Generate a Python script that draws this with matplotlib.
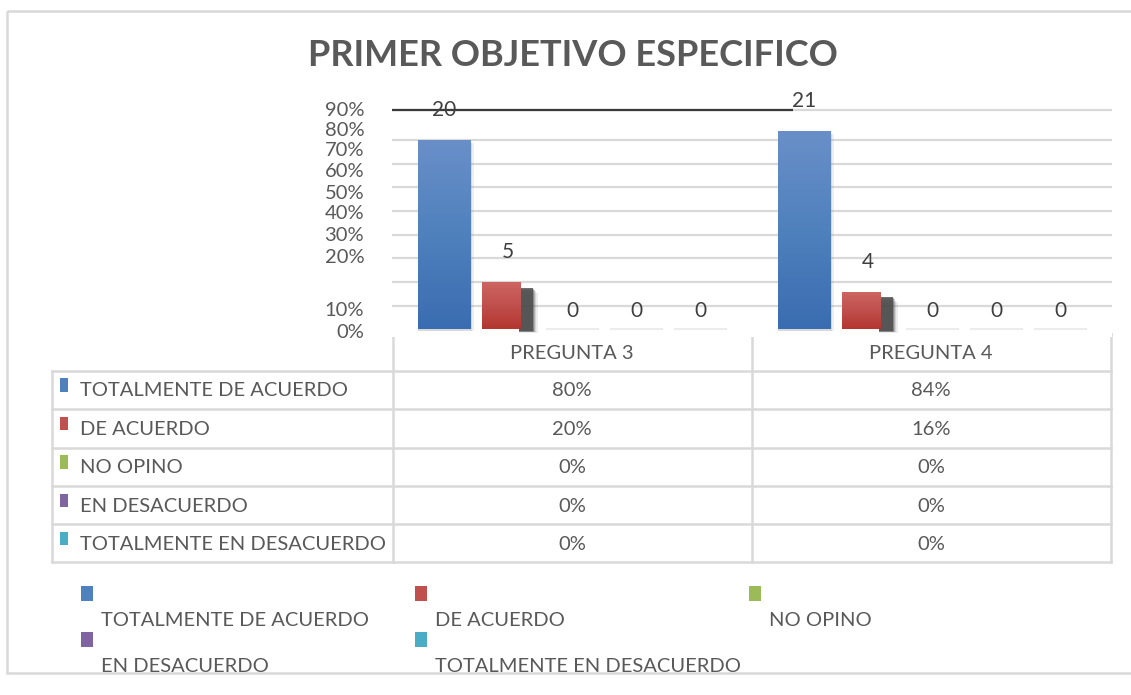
import matplotlib
matplotlib.use("Agg")
import matplotlib.pyplot as plt
from matplotlib.patches import Rectangle
from matplotlib.colors import LinearSegmentedColormap
import numpy as np

plt.rcParams['font.family'] = ['Lato', 'DejaVu Sans']

# ---------------- data ----------------
title = "PRIMER OBJETIVO ESPECIFICO"
questions = ["PREGUNTA 3", "PREGUNTA 4"]
series = ["TOTALMENTE DE ACUERDO", "DE ACUERDO", "NO OPINO",
          "EN DESACUERDO", "TOTALMENTE EN DESACUERDO"]
counts_p3 = [20, 5, 0, 0, 0]
counts_p4 = [21, 4, 0, 0, 0]
pct_p3 = ["80%", "20%", "0%", "0%", "0%"]
pct_p4 = ["84%", "16%", "0%", "0%", "0%"]
ytick_labels = ["0%", "10%", "20%", "30%", "40%", "50%", "60%", "70%", "80%", "90%"]

colors = ["#4f81bd", "#c0504d", "#9bbb59", "#8064a2", "#4bacc6"]
grad_top = ["#6a8fc8", "#cd6662", "#a9c56e", "#8f76b0", "#64b9d0"]
grad_bot = ["#3a6cb1", "#b4352f", "#86a845", "#6d5290", "#3597b3"]
text_col = "#595959"

W, H = 1131, 695
fig = plt.figure(figsize=(W / 100, H / 100), dpi=100)

# ---------------- bar axes ----------------
px_per_unit = 9.47
base_px = 329.4
ymin, ymax = -0.8, 24.0
ax_left, ax_right = 392, 1112
ax = fig.add_axes([ax_left / W, (H - base_px - (-ymin) * px_per_unit) / H,
                   (ax_right - ax_left) / W, (ymax - ymin) * px_per_unit / H])
ax.set_xlim(0, 2)
ax.set_ylim(ymin, ymax)
for s in ax.spines.values():
    s.set_visible(False)
ax.tick_params(axis='x', length=0, labelbottom=False)
ax.tick_params(axis='y', length=0, labelsize=14.5, labelcolor=text_col, pad=20)
ytick_pos = [-0.2, 2.15, 7.75, 10.04, 12.37, 14.54, 16.8, 19.03, 21.14, 23.25]
ax.set_yticks(ytick_pos)
ax.set_yticklabels(ytick_labels)

# grid lines
for k in range(1, 9):
    ax.axhline(2.5 * k, color="#d9d9d9", lw=1.6, zorder=0)
ax.axhline(23.2, color="#d9d9d9", lw=1.6, zorder=0)
ax.hlines(23.2, 0, 1.114, color="#3a3a3a", lw=1.6, zorder=1)

step = 64 / 360
slot = 53 / 360
red_w = 39 / 360
px = 1 / 360
data = [counts_p3, counts_p4]
for qi, vals in enumerate(data):
    center = qi + 0.5
    for si, v in enumerate(vals):
        xc = center + (si - 2) * step
        left = xc - slot / 2
        width = red_w if si == 1 else slot
        if v > 0:
            if si == 1:
                # blurred dark shadow to the right of the red bar
                for g, a in [(5, 0.10), (3.5, 0.15), (2, 0.25), (1, 0.4), (0, 0.8)]:
                    ax.bar(left + red_w - 2 * px, v - 0.6 - g * 0.08 + 0.2,
                           bottom=-0.2 - g * 0.03, width=slot - red_w + g * px,
                           align='edge', color="#4a4a4a", alpha=a, zorder=2, lw=0)
            else:
                for g, a in [(3, 0.12), (1.5, 0.2)]:
                    ax.bar(left, v - 0.2, bottom=-0.15, width=width + g * px,
                           align='edge', color="#808080", alpha=a, zorder=2, lw=0)
            bars = ax.bar(left, v, width=width, align='edge', color=colors[si],
                          zorder=3, lw=0)
            p = bars[0]
            cmap = LinearSegmentedColormap.from_list("g", [grad_bot[si], colors[si], grad_top[si]])
            grad = np.linspace(0, 1, 256).reshape(-1, 1)
            im = ax.imshow(grad, extent=[left, left + width, 0, v], origin='lower',
                           aspect='auto', cmap=cmap, zorder=4)
            im.set_clip_path(p)
            ax.annotate(str(v), (xc, v), xytext=(0, 21.5), textcoords='offset points',
                        ha='center', va='center', fontsize=15, color="#404040", zorder=6)
        else:
            ax.hlines(0.05, left, left + slot, color="#ececec", lw=1.5, zorder=1)
            ax.annotate(str(v), (xc, 0), xytext=(0, 13.5), textcoords='offset points',
                        ha='center', va='center', fontsize=15, color="#404040", zorder=6)
ax.set_xlim(0, 2)
ax.set_ylim(ymin, ymax)

# ---------------- overlay axes in pixel coordinates ----------------
ov = fig.add_axes([0, 0, 1, 1], zorder=-1)
ov.set_xlim(0, W)
ov.set_ylim(H, 0)
ov.axis('off')

# outer frame
ov.add_patch(Rectangle((7, 11), W + 10, 673 - 11, fill=False, ec="#d9d9d9", lw=1.8))

ov.text(573, 56, title, ha='center', va='center', fontsize=26, fontweight='bold',
        color=text_col)

# table
tcol = "#d9d9d9"
row_lines = [370.7, 409.3, 447.7, 486.0, 524.3, 562.3]
x_l, x_c1, x_c2, x_r = 52, 392.7, 751.7, 1110.7
top_hdr = 334
ov.plot([x_c1, x_r], [top_hdr, top_hdr], color=tcol, lw=1.8)
for y in row_lines:
    ov.plot([x_l, x_r], [y, y], color=tcol, lw=1.8)
ov.plot([x_l, x_l], [row_lines[0], row_lines[-1]], color=tcol, lw=1.8)
for x in [x_c1, x_c2, x_r]:
    ov.plot([x, x], [top_hdr, row_lines[-1]], color=tcol, lw=1.8)

fs = 14.5
col_centers = [(x_c1 + x_c2) / 2, (x_c2 + x_r) / 2]
for ci, q in enumerate(questions):
    ov.text(col_centers[ci], (top_hdr + row_lines[0]) / 2 + 1, q, ha='center', va='center',
            fontsize=fs, color=text_col)
pcts = [pct_p3, pct_p4]
for ri, name in enumerate(series):
    y0, y1 = row_lines[ri], row_lines[ri + 1]
    yc = (y0 + y1) / 2 + 1
    ov.add_patch(Rectangle((60, y0 + 7.5), 8, 13.5, color=colors[ri], lw=0))
    ov.text(80, yc, name, ha='left', va='center', fontsize=fs, color=text_col)
    for ci in range(2):
        ov.text(col_centers[ci], yc, pcts[ci][ri], ha='center', va='center',
                fontsize=fs, color=text_col)

# legend
leg_x = [81, 415, 749]
leg_rows = [(586, 619), (632, 665)]
for i, name in enumerate(series):
    r, c = divmod(i, 3)
    kx = leg_x[c]
    ky, ty = leg_rows[r]
    ov.add_patch(Rectangle((kx, ky), 12, 14.5, color=colors[i], lw=0))
    ov.text(kx + 20, ty + 1, name, ha='left', va='center', fontsize=fs, color=text_col)

fig.savefig("out.png", dpi=100)
